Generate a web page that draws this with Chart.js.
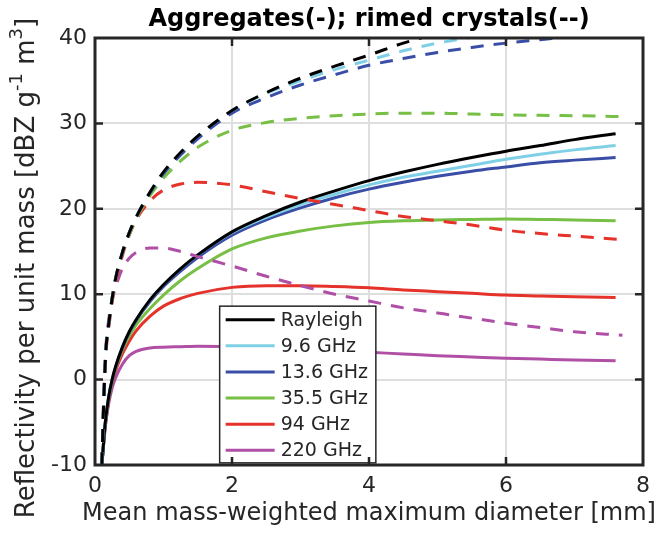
<!DOCTYPE html>
<html><head><meta charset="utf-8">
<script src="https://cdn.jsdelivr.net/npm/chart.js@4.4.1/dist/chart.umd.min.js"></script>
<style>html,body{margin:0;padding:0;background:#fff}</style>
</head><body>
<canvas id="c" width="661" height="534"></canvas>
<script>
// Mean mass-weighted maximum diameter [mm]
const diamAgg = [0.1,0.15,0.2,0.25,0.3,0.4,0.5,0.6,0.8,1.0,1.25,1.5,2,2.5,3,3.5,4,4.5,5,5.5,6,6.5,7,7.6];
const diamRimed = [0.1,0.13,0.16,0.2,0.25,0.3,0.4,0.5,0.6,0.8,1.0,1.25,1.5,2,2.5,3,3.5,4,4.5,5,5.5,6,6.5,7,7.7];

const seriesNames = ['Rayleigh','9.6 GHz','13.6 GHz','35.5 GHz','94 GHz','220 GHz'];
const seriesColors = ['#000000','#7fd0e6','#3a4ea8','#77bf45','#e5322a','#b04fa6'];

// Aggregates (solid lines) [dBZ g^-1 m^3]
const aggRayleigh = [-10,-5.0,-2.0,0.0,1.5,3.8,5.6,7.0,9.3,11.1,13.0,14.6,17.3,19.2,20.8,22.1,23.3,24.3,25.2,26.0,26.75,27.4,28.1,28.8];
const agg96  = [-10,-5.0,-2.0,0.0,1.5,3.8,5.6,7.0,9.3,11.1,13.0,14.6,17.2,19.0,20.5,21.7,22.8,23.7,24.4,25.1,25.8,26.4,26.9,27.4];
const agg136 = [-10,-5.1,-2.1,-0.1,1.4,3.7,5.5,6.9,9.1,10.9,12.7,14.3,16.9,18.7,20.1,21.3,22.3,23.1,23.8,24.4,24.9,25.4,25.7,26.0];
const agg355 = [-10,-5.2,-2.2,-0.2,1.3,3.5,5.1,6.4,8.3,9.9,11.6,13.0,15.3,16.6,17.4,18.0,18.4,18.6,18.7,18.75,18.8,18.75,18.7,18.6];
const agg94  = [-10,-5.5,-2.5,-0.4,1.0,3.0,4.5,5.7,7.4,8.6,9.5,10.1,10.8,11.0,11.0,10.9,10.75,10.5,10.3,10.1,9.9,9.8,9.7,9.6];
const agg220 = [-10,-5.5,-2.8,-1.0,0.2,1.8,2.8,3.3,3.7,3.8,3.85,3.9,3.85,3.75,3.6,3.4,3.2,3.0,2.8,2.65,2.5,2.4,2.3,2.2];

// Rimed crystals (dashed lines)
const rimRayleigh = [-10,-2,3.5,6.5,9.5,11.8,14.9,17.2,19.0,21.9,24.3,26.6,28.5,31.5,33.6,35.3,36.7,38.0,39.4,40.5,41.4,42.1,42.8,43.5,44.4];
const rim96  = [-10,-2,3.5,6.5,9.5,11.8,14.9,17.2,19.0,21.9,24.3,26.6,28.5,31.5,33.5,35.0,36.3,37.4,38.5,39.4,40.1,40.8,41.4,41.9,42.6];
const rim136 = [-10,-2,3.5,6.5,9.5,11.8,14.9,17.2,19.0,21.8,24.1,26.3,28.2,31.2,33.0,34.5,35.7,36.8,37.6,38.3,38.9,39.4,39.8,40.2,40.6];
const rim355 = [-10,-2,3.5,6.5,9.5,11.7,14.8,17.0,18.8,21.5,23.6,25.6,27.2,29.2,30.1,30.6,30.9,31.1,31.2,31.2,31.1,31.0,30.95,30.9,30.8];
const rim94  = [-10,-2.5,3,6,9,11.3,14.5,16.9,18.7,20.9,22.2,22.9,23.1,22.8,22.0,21.2,20.5,19.8,19.1,18.6,18.1,17.5,17.1,16.8,16.4];
const rim220 = [-10,-1,4,7,9.4,10.8,13.0,14.2,14.9,15.4,15.4,15.0,14.4,13.3,12.1,11.0,10.0,9.2,8.4,7.8,7.2,6.6,6.1,5.6,5.2];

const xTicks = [0,2,4,6,8];
const yTicks = [-10,0,10,20,30,40];

const aggSeries = [aggRayleigh, agg96, agg136, agg355, agg94, agg220];
const rimSeries = [rimRayleigh, rim96, rim136, rim355, rim94, rim220];

const FONT = '"DejaVu Sans", sans-serif';
const AXIS_COLOR = '#262626';

function pts(xs, ys) { return xs.map((x, i) => ({ x: x, y: ys[i] })); }

const datasets = [];
rimSeries.forEach((ys, i) => datasets.push({
  label: seriesNames[i], data: pts(diamRimed, ys), borderColor: seriesColors[i],
  borderDash: [13, 10], rimed: true
}));
aggSeries.forEach((ys, i) => datasets.push({
  label: seriesNames[i], data: pts(diamAgg, ys), borderColor: seriesColors[i]
}));
datasets.forEach(d => Object.assign(d, {
  borderWidth: 3, pointRadius: 0, fill: false, cubicInterpolationMode: 'monotone'
}));

// Title, box, inward ticks, axis labels, and legend box
const decorations = {
  id: 'decorations',
  afterDatasetsDraw(chart) {
    const ctx = chart.ctx;
    const a = chart.chartArea;
    const xs = chart.scales.x, ys = chart.scales.y;

    // legend (aggregate series only)
    const items = chart.data.datasets.filter(d => !d.rimed);
    const lx = xs.getPixelForValue(1.82), rx = xs.getPixelForValue(4.1);
    const ty = ys.getPixelForValue(8.6), by = ys.getPixelForValue(-9.75);
    ctx.save();
    ctx.fillStyle = '#fff';
    ctx.fillRect(lx, ty, rx - lx, by - ty);
    ctx.strokeStyle = AXIS_COLOR; ctx.lineWidth = 1.5;
    ctx.strokeRect(lx, ty, rx - lx, by - ty);
    ctx.font = '19px ' + FONT;
    ctx.textBaseline = 'middle'; ctx.textAlign = 'left';
    const rowH = (by - ty) / items.length;
    items.forEach((d, i) => {
      const y = ty + rowH * (i + 0.5) + 0.5;
      ctx.strokeStyle = d.borderColor; ctx.lineWidth = 3;
      ctx.beginPath(); ctx.moveTo(lx + 6, y); ctx.lineTo(lx + 55, y); ctx.stroke();
      ctx.fillStyle = AXIS_COLOR;
      ctx.fillText(d.label, lx + 61, y + 1);
    });
    ctx.restore();

    // axes box with inward ticks on all sides
    ctx.save();
    ctx.strokeStyle = AXIS_COLOR; ctx.lineWidth = 3;
    ctx.strokeRect(a.left, a.top, a.right - a.left, a.bottom - a.top);
    ctx.lineWidth = 2.5;
    ctx.beginPath();
    xTicks.slice(1, -1).forEach(v => {
      const p = xs.getPixelForValue(v);
      ctx.moveTo(p, a.bottom); ctx.lineTo(p, a.bottom - 8);
      ctx.moveTo(p, a.top); ctx.lineTo(p, a.top + 8);
    });
    yTicks.slice(1, -1).forEach(v => {
      const p = ys.getPixelForValue(v);
      ctx.moveTo(a.left, p); ctx.lineTo(a.left + 8, p);
      ctx.moveTo(a.right, p); ctx.lineTo(a.right - 8, p);
    });
    ctx.stroke();
    ctx.restore();
  },
  afterDraw(chart) {
    const ctx = chart.ctx;
    const a = chart.chartArea;
    const cx = (a.left + a.right) / 2;
    // title
    ctx.save();
    ctx.fillStyle = '#000';
    ctx.font = 'bold 24px ' + FONT;
    ctx.textAlign = 'center'; ctx.textBaseline = 'middle';
    ctx.fillText('Aggregates(-); rimed crystals(--)', cx, 20);

    // x-axis label
    ctx.fillStyle = AXIS_COLOR;
    ctx.font = '24px ' + FONT;
    ctx.fillText('Mean mass-weighted maximum diameter [mm]', cx, 514);
    ctx.restore();

    // y-axis label with superscripts
    const big = '26px ' + FONT, small = '18px ' + FONT;
    const parts = [
      ['Reflectivity per unit mass [dBZ g', big, 0],
      ['-1', small, -10],
      [' m', big, 0],
      ['3', small, -10],
      [']', big, 0]
    ];
    ctx.save();
    let total = 0;
    parts.forEach(p => { ctx.font = p[1]; p.push(ctx.measureText(p[0]).width); total += p[3]; });
    ctx.translate(26, 268);
    ctx.rotate(-Math.PI / 2);
    ctx.fillStyle = AXIS_COLOR;
    ctx.textBaseline = 'middle'; ctx.textAlign = 'left';
    let x = -total / 2;
    parts.forEach(p => { ctx.font = p[1]; ctx.fillText(p[0], x, p[2] + 1); x += p[3]; });
    ctx.restore();
  }
};

new Chart(document.getElementById('c'), {
  type: 'line',
  data: { datasets: datasets },
  options: {
    responsive: false,
    animation: false,
    devicePixelRatio: 1,
    layout: { padding: { left: 0, top: 38, right: 18, bottom: 0 } },
    plugins: { legend: { display: false }, tooltip: { enabled: false }, title: { display: false } },
    scales: {
      x: {
        type: 'linear', min: 0, max: 8,
        afterBuildTicks: s => { s.ticks = xTicks.map(v => ({ value: v })); },
        afterFit: s => { s.height = 69; },
        grid: { color: '#dedede', lineWidth: 2, drawTicks: false },
        border: { display: false },
        ticks: { color: AXIS_COLOR, font: { family: FONT, size: 22 }, padding: 8, maxRotation: 0 }
      },
      y: {
        type: 'linear', min: -10, max: 40,
        afterBuildTicks: s => { s.ticks = yTicks.map(v => ({ value: v })); },
        afterFit: s => { s.width = 95; },
        grid: { color: '#dedede', lineWidth: 2, drawTicks: false },
        border: { display: false },
        ticks: { color: AXIS_COLOR, font: { family: FONT, size: 22 }, padding: 8 }
      }
    }
  },
  plugins: [decorations]
});
</script>
</body></html>
